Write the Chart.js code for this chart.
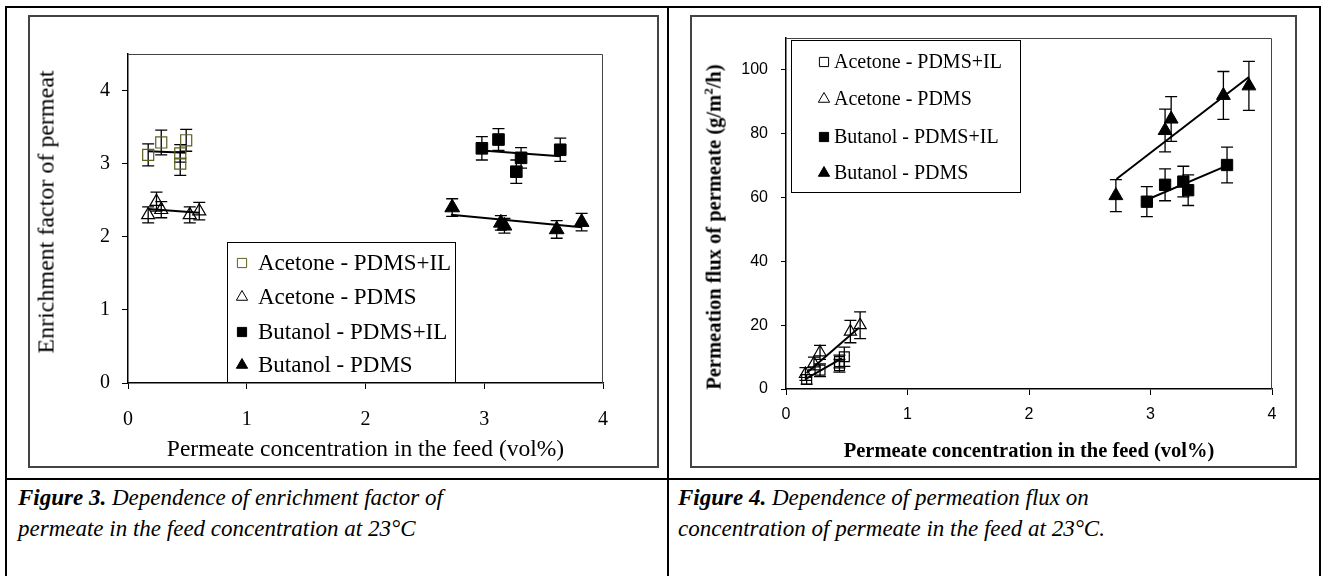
<!DOCTYPE html>
<html>
<head>
<meta charset="utf-8">
<title>Figures 3 and 4</title>
<script src="https://cdn.jsdelivr.net/npm/chart.js@4.4.1/dist/chart.umd.min.js"></script>
<style>
html, body { margin: 0; padding: 0; background: #fff; }
#page { position: relative; width: 1322px; height: 576px; overflow: hidden; font-family: "Liberation Serif", serif; color: #000; }
.ln { position: absolute; background: #000; }
.box { position: absolute; border: 2px solid #444; box-sizing: border-box; }
canvas { position: absolute; }
.ytitle { position: absolute; white-space: nowrap; transform: translate(-50%, -50%) rotate(-90deg); }
.cap { position: absolute; white-space: nowrap; font-style: italic; font-size: 23px; line-height: 31px; }
</style>
</head>
<body>
<div id="page">
  <!-- table lines -->
  <div class="ln" style="left:5px;top:6px;width:1316px;height:2px"></div>
  <div class="ln" style="left:5px;top:6px;width:2px;height:570px"></div>
  <div class="ln" style="left:667px;top:6px;width:2px;height:570px"></div>
  <div class="ln" style="left:1319px;top:6px;width:2px;height:570px"></div>
  <div class="ln" style="left:5px;top:478px;width:1316px;height:2px"></div>

  <div class="box" style="left:28px;top:15px;width:631px;height:453px"></div>
  <canvas id="fig3" width="631" height="453" style="left:28px;top:15px;width:631px;height:453px"></canvas>
  <div class="ytitle" style="left:46px;top:212px;font-size:24px">Enrichment factor of permeat</div>

  <div class="box" style="left:690px;top:15px;width:607px;height:453px"></div>
  <canvas id="fig4" width="607" height="453" style="left:690px;top:15px;width:607px;height:453px"></canvas>
  <div class="ytitle" style="left:713px;top:227px;font-size:20.5px;font-weight:bold">Permeation flux of permeate (g/m<sup style="font-size:13px">2</sup>/h)</div>

  <div class="cap" style="left:18px;top:482px"><b>Figure 3.</b> Dependence of enrichment factor of</div>
  <div class="cap" style="left:18px;top:513px">permeate in the feed concentration at 23°C</div>
  <div class="cap" style="left:678px;top:482px"><b>Figure 4.</b> Dependence of permeation flux on</div>
  <div class="cap" style="left:678px;top:513px">concentration of permeate in the feed at 23°C.</div>
</div>

<script>
var labels = ["Acetone - PDMS+IL", "Acetone - PDMS", "Butanol - PDMS+IL", "Butanol - PDMS"];
var xTicks = [0, 1, 2, 3, 4];
var efTicks = [0, 1, 2, 3, 4];
var fluxTicks = [0, 20, 40, 60, 80, 100];

// Figure 3 - enrichment factor
var efAcIL_x = [0.17, 0.28, 0.44, 0.44, 0.49];
var efAcIL_y = [3.12, 3.29, 3.14, 3.00, 3.32];
var efAcIL_e = [0.15, 0.17, 0.12, 0.16, 0.15];
var efAc_x = [0.17, 0.24, 0.28, 0.52, 0.60];
var efAc_y = [2.30, 2.48, 2.37, 2.30, 2.35];
var efAc_e = [0.11, 0.13, 0.11, 0.11, 0.12];
var efBuIL_x = [2.98, 3.12, 3.31, 3.27, 3.64];
var efBuIL_y = [3.21, 3.33, 3.08, 2.89, 3.19];
var efBuIL_e = [0.16, 0.15, 0.14, 0.16, 0.16];
var efBu_x = [2.73, 3.14, 3.17, 3.61, 3.82];
var efBu_y = [2.40, 2.19, 2.15, 2.10, 2.20];
var efBu_e = [0.12, 0.10, 0.10, 0.12, 0.12];
// trend lines (end points)
var efAcIL_tx = [0.17, 0.49], efAcIL_ty = [3.17, 3.15];
var efAc_tx = [0.17, 0.60], efAc_ty = [2.38, 2.33];
var efBuIL_tx = [2.98, 3.64], efBuIL_ty = [3.18, 3.10];
var efBu_tx = [2.72, 3.82], efBu_ty = [2.30, 2.13];

// Figure 4 - permeation flux
var flAcIL_x = [0.17, 0.28, 0.44, 0.44, 0.48];
var flAcIL_y = [3.0, 5.9, 7.3, 8.6, 10.1];
var flAcIL_e = [1.5, 2.0, 2.0, 2.0, 3.0];
var flAc_x = [0.16, 0.23, 0.28, 0.53, 0.61];
var flAc_y = [4.7, 8.0, 11.5, 18.0, 20.0];
var flAc_e = [2.0, 2.0, 2.2, 3.5, 4.2];
var flBuIL_x = [2.97, 3.12, 3.27, 3.31, 3.63];
var flBuIL_y = [58.7, 64.0, 65.0, 62.3, 70.2];
var flBuIL_e = [4.7, 5.0, 4.8, 4.8, 5.6];
var flBu_x = [2.715, 3.12, 3.17, 3.60, 3.81];
var flBu_y = [60.6, 81.0, 84.6, 92.0, 95.0];
var flBu_e = [5.0, 6.7, 7.0, 7.5, 7.7];
var flAcIL_tx = [0.17, 0.46], flAcIL_ty = [3.3, 9.6];
var flAc_tx = [0.17, 0.60], flAc_ty = [5.0, 19.2];
var flBuIL_tx = [2.97, 3.63], flBuIL_ty = [59.3, 70.0];
var flBu_tx = [2.72, 3.81], flBu_ty = [65.8, 97.8];

function pts(xs, ys) {
  return xs.map(function (x, i) { return { x: x, y: ys[i] }; });
}

function series(label, xs, ys, errs, style, r, color, filled) {
  return {
    label: label,
    data: pts(xs, ys),
    errors: errs,
    showLine: false,
    pointStyle: style,
    pointRadius: r,
    pointBorderWidth: filled ? 1 : 1.2,
    pointBorderColor: color,
    pointBackgroundColor: filled ? color : "rgba(0,0,0,0)",
    order: 1
  };
}

function trend(xs, ys) {
  return {
    data: pts(xs, ys),
    trend: true,
    showLine: true,
    borderColor: "#000",
    borderWidth: 2,
    pointRadius: 0,
    order: 2
  };
}

function drawMark(ctx, style, x, y, r, stroke, fill) {
  ctx.beginPath();
  if (style === "triangle") {
    ctx.moveTo(x, y - r);
    ctx.lineTo(x + r * 0.866, y + r / 2);
    ctx.lineTo(x - r * 0.866, y + r / 2);
    ctx.closePath();
  } else {
    var s = r * 0.707;
    ctx.rect(x - s, y - s, 2 * s, 2 * s);
  }
  ctx.fillStyle = fill;
  ctx.fill();
  ctx.strokeStyle = stroke;
  ctx.lineWidth = 1;
  ctx.stroke();
}

// vertical error bars with caps
var errorBars = {
  id: "errorBars",
  beforeDatasetsDraw: function (chart) {
    var ctx = chart.ctx, ys = chart.scales.y;
    ctx.save();
    ctx.strokeStyle = "#000";
    ctx.lineWidth = 1.3;
    chart.data.datasets.forEach(function (ds, i) {
      if (!ds.errors) return;
      chart.getDatasetMeta(i).data.forEach(function (pt, j) {
        var v = ds.data[j].y, e = ds.errors[j];
        var top = ys.getPixelForValue(v + e), bot = ys.getPixelForValue(v - e);
        ctx.beginPath();
        ctx.moveTo(pt.x, top); ctx.lineTo(pt.x, bot);
        ctx.moveTo(pt.x - 6, top); ctx.lineTo(pt.x + 6, top);
        ctx.moveTo(pt.x - 6, bot); ctx.lineTo(pt.x + 6, bot);
        ctx.stroke();
      });
    });
    ctx.restore();
  }
};

// top and right edge of the plot area
var frame = {
  id: "frame",
  beforeDatasetsDraw: function (chart) {
    var a = chart.chartArea, ctx = chart.ctx;
    ctx.save();
    ctx.strokeStyle = "#444";
    ctx.lineWidth = 1;
    ctx.beginPath();
    ctx.moveTo(a.left, a.top + 0.5);
    ctx.lineTo(a.right - 0.5, a.top + 0.5);
    ctx.lineTo(a.right - 0.5, a.bottom);
    ctx.stroke();
    ctx.restore();
  }
};

// boxed legend placed inside the plot
var boxLegend = {
  id: "boxLegend",
  afterDraw: function (chart, args, o) {
    var ctx = chart.ctx, n = 0;
    ctx.save();
    ctx.fillStyle = "#fff";
    ctx.fillRect(o.x, o.y, o.w, o.h);
    ctx.strokeStyle = "#000";
    ctx.lineWidth = 1;
    ctx.strokeRect(o.x + 0.5, o.y + 0.5, o.w, o.h);
    chart.data.datasets.forEach(function (ds) {
      if (ds.trend) return;
      var cy = o.rows[n++];
      drawMark(ctx, ds.pointStyle, o.markerX, cy, o.markerR, ds.pointBorderColor, ds.pointBackgroundColor);
      ctx.fillStyle = "#000";
      ctx.font = o.font;
      ctx.textAlign = "left";
      ctx.textBaseline = "middle";
      ctx.fillText(ds.label, o.textX, cy + 1);
    });
    ctx.restore();
  }
};

var olive = "#5f5f1f";

new Chart(document.getElementById("fig3"), {
  type: "scatter",
  data: {
    datasets: [
      series(labels[0], efAcIL_x, efAcIL_y, efAcIL_e, "rect", 7.8, olive, false),
      series(labels[1], efAc_x, efAc_y, efAc_e, "triangle", 7.5, "#000", false),
      series(labels[2], efBuIL_x, efBuIL_y, efBuIL_e, "rect", 8.2, "#000", true),
      series(labels[3], efBu_x, efBu_y, efBu_e, "triangle", 8.5, "#000", true),
      trend(efAcIL_tx, efAcIL_ty),
      trend(efAc_tx, efAc_ty),
      trend(efBuIL_tx, efBuIL_ty),
      trend(efBu_tx, efBu_ty)
    ]
  },
  plugins: [frame, errorBars, boxLegend],
  options: {
    responsive: false,
    animation: false,
    layout: { padding: { left: 0, right: 56, top: 39, bottom: 4 } },
    plugins: {
      legend: { display: false },
      tooltip: { enabled: false },
      boxLegend: {
        x: 199, y: 227, w: 228, h: 140,
        rows: [248, 282, 317, 350],
        markerX: 214, textX: 230, markerR: 6.5,
        font: "23px 'Liberation Serif'"
      }
    },
    scales: {
      x: {
        type: "linear", min: 0, max: 4,
        afterBuildTicks: function (s) { s.ticks = xTicks.map(function (v) { return { value: v }; }); },
        afterFit: function (s) { s.height = 81; },
        grid: { drawOnChartArea: false, drawTicks: true, tickLength: 6, color: "#000" },
        border: { color: "#000", width: 1.5 },
        ticks: { color: "#000", padding: 19, maxRotation: 0, autoSkip: false, font: { family: "Liberation Serif", size: 20 } },
        title: { display: true, text: "Permeate concentration in the feed (vol%)", color: "#000", padding: 0, font: { family: "Liberation Serif", size: 23.5 } }
      },
      y: {
        type: "linear", min: 0, max: 4.5,
        afterBuildTicks: function (s) { s.ticks = efTicks.map(function (v) { return { value: v }; }); },
        afterFit: function (s) { s.width = 100; },
        grid: { drawOnChartArea: false, drawTicks: true, tickLength: 6, color: "#000" },
        border: { color: "#000", width: 1.5 },
        ticks: { color: "#000", padding: 12, font: { family: "Liberation Serif", size: 20 } }
      }
    }
  }
});

new Chart(document.getElementById("fig4"), {
  type: "scatter",
  data: {
    datasets: [
      series(labels[0], flAcIL_x, flAcIL_y, flAcIL_e, "rect", 7, "#000", false),
      series(labels[1], flAc_x, flAc_y, flAc_e, "triangle", 7, "#000", false),
      series(labels[2], flBuIL_x, flBuIL_y, flBuIL_e, "rect", 8, "#000", true),
      series(labels[3], flBu_x, flBu_y, flBu_e, "triangle", 8, "#000", true),
      trend(flAcIL_tx, flAcIL_ty),
      trend(flAc_tx, flAc_ty),
      trend(flBuIL_tx, flBuIL_ty),
      trend(flBu_tx, flBu_ty)
    ]
  },
  plugins: [frame, errorBars, boxLegend],
  options: {
    responsive: false,
    animation: false,
    layout: { padding: { left: 0, right: 25, top: 23, bottom: 4 } },
    plugins: {
      legend: { display: false },
      tooltip: { enabled: false },
      boxLegend: {
        x: 101, y: 25, w: 229, h: 152,
        rows: [47, 84, 122, 158],
        markerX: 134, textX: 144, markerR: 6.5,
        font: "20px 'Liberation Serif'"
      }
    },
    scales: {
      x: {
        type: "linear", min: 0, max: 4,
        afterBuildTicks: function (s) { s.ticks = xTicks.map(function (v) { return { value: v }; }); },
        afterFit: function (s) { s.height = 75; },
        grid: { drawOnChartArea: false, drawTicks: true, tickLength: 6, color: "#000" },
        border: { color: "#000", width: 1.5 },
        ticks: { color: "#000", padding: 10, maxRotation: 0, autoSkip: false, font: { family: "Liberation Sans", size: 16 } },
        title: { display: true, text: "Permeate concentration in the feed (vol%)", color: "#000", padding: 0, font: { family: "Liberation Serif", size: 20.5, weight: "bold" } }
      },
      y: {
        type: "linear", min: 0, max: 110,
        afterBuildTicks: function (s) { s.ticks = fluxTicks.map(function (v) { return { value: v }; }); },
        afterFit: function (s) { s.width = 96; },
        grid: { drawOnChartArea: false, drawTicks: true, tickLength: 5, color: "#000" },
        border: { color: "#000", width: 1.5 },
        ticks: { color: "#000", padding: 13, font: { family: "Liberation Sans", size: 16 } }
      }
    }
  }
});
</script>
</body>
</html>
